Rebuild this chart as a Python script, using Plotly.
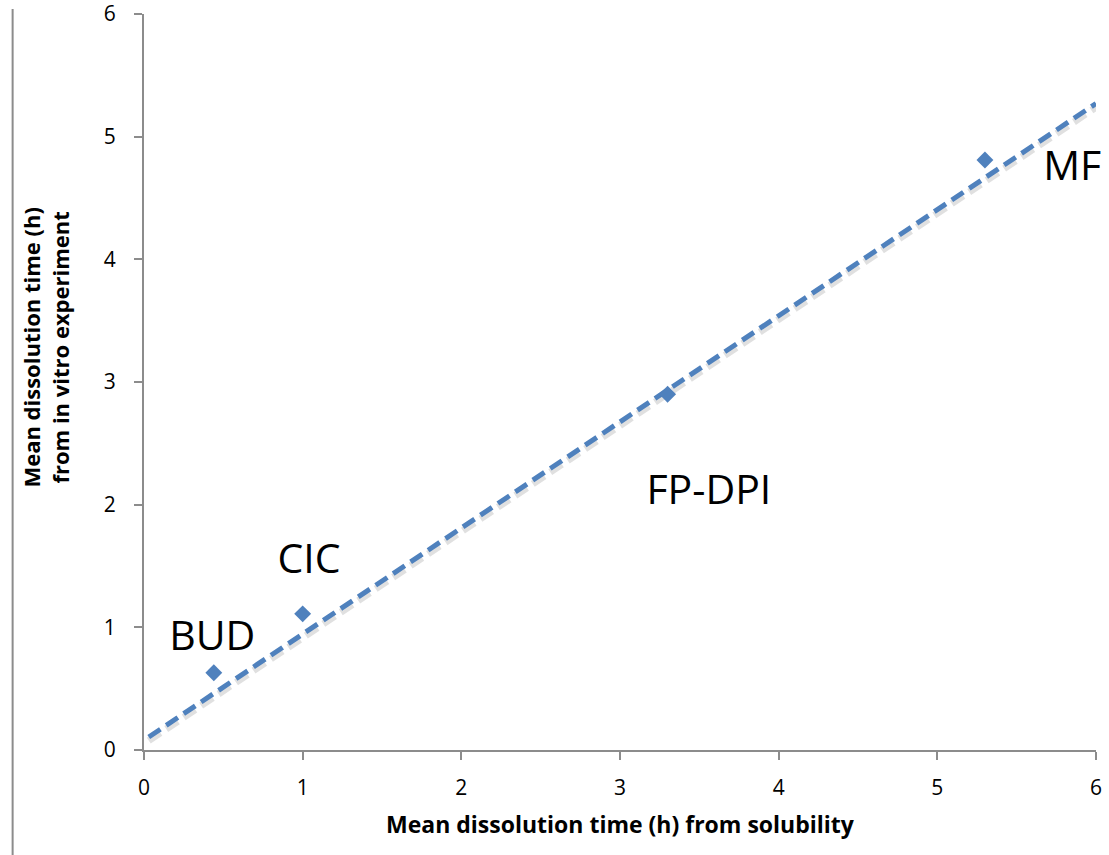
import plotly.graph_objects as go

drugs = ["BUD", "CIC", "FP-DPI", "MF"]
x_solubility = [0.44, 1.0, 3.30, 5.30]
y_invitro = [0.63, 1.11, 2.90, 4.81]
trend_x = [0.03, 6.0]
trend_y = [0.106, 5.27]
label_x = [0.43, 1.04, 3.56, 5.85]
label_y = [0.9, 1.53, 2.09, 4.73]
ticks = [0, 1, 2, 3, 4, 5, 6]

blue = "#4F81BD"
grey = "#8C8C8C"
font = "Open Sans, Liberation Sans, sans-serif"

fig = go.Figure()
# shadow of trend line
fig.add_trace(go.Scatter(x=trend_x, y=[v - 0.03 for v in trend_y], mode="lines",
                         line=dict(color="rgba(0,0,0,0.12)", width=7, dash="14px,7px"),
                         hoverinfo="skip", showlegend=False))
fig.add_trace(go.Scatter(x=trend_x, y=trend_y, mode="lines",
                         line=dict(color=blue, width=5, dash="14px,7px"),
                         showlegend=False))
fig.add_trace(go.Scatter(x=x_solubility, y=y_invitro, mode="markers",
                         marker=dict(symbol="diamond", size=13, color=blue),
                         showlegend=False))
fig.add_trace(go.Scatter(x=label_x, y=label_y, mode="text", text=drugs,
                         textfont=dict(size=41, color="black", family=font),
                         cliponaxis=False, showlegend=False))

axis_common = dict(range=[0, 6], tickvals=ticks, showgrid=False, zeroline=False,
                   showline=True, linecolor=grey, linewidth=2, ticks="outside",
                   ticklen=8, tickwidth=2, tickcolor=grey, automargin=False,
                   ticklabeloverflow="allow",
                   tickfont=dict(size=21, color="black", family=font))
fig.update_xaxes(**axis_common, ticklabelstandoff=10)
fig.update_yaxes(**axis_common, ticklabelstandoff=14)

fig.add_annotation(text="<b>Mean dissolution time (h) from solubility</b>", xref="paper", yref="paper",
                   x=0.5, y=-0.1005, yanchor="middle", showarrow=False,
                   font=dict(size=23, color="black", family=font))
fig.add_annotation(text="<b>Mean dissolution time (h)<br>from in vitro experiment</b>", xref="paper", yref="paper",
                   x=-0.103, y=0.548, xanchor="center", yanchor="middle", textangle=-90, showarrow=False,
                   font=dict(size=22, color="black", family=font))
fig.add_shape(type="line", xref="paper", yref="paper", x0=-0.138, x1=-0.138, y0=1.0068, y1=-0.15,
              line=dict(color=grey, width=2))

fig.update_layout(width=1109, height=855, plot_bgcolor="white", paper_bgcolor="white",
                  margin=dict(l=143.5, r=13.3, t=14, b=105, autoexpand=False))
fig.write_html("out.html")
